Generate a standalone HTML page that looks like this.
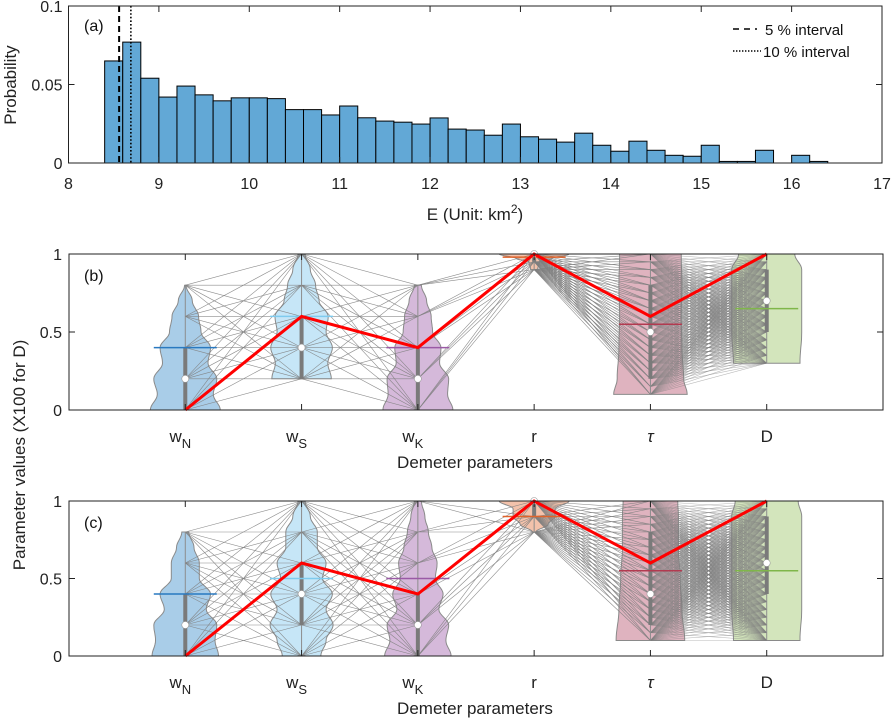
<!DOCTYPE html>
<html><head><meta charset="utf-8"><style>
html,body{margin:0;padding:0;background:#fff}
svg{display:block;font-family:"Liberation Sans",Arial,sans-serif}
</style></head><body>
<svg id="fig" width="894" height="722" viewBox="0 0 894 722" xmlns="http://www.w3.org/2000/svg"></svg>
<script>
// ---- Panel (a) histogram data ----
const binStarts = [8.4,8.6,8.8,9.0,9.2,9.4,9.6,9.8,10.0,10.2,10.4,10.6,10.8,11.0,11.2,11.4,11.6,11.8,12.0,12.2,12.4,12.6,12.8,13.0,13.2,13.4,13.6,13.8,14.0,14.2,14.4,14.6,14.8,15.0,15.2,15.4,15.6,15.8,16.0,16.2];
const binProbs = [0.065,0.077,0.054,0.042,0.049,0.0434,0.0396,0.0415,0.0415,0.041,0.034,0.034,0.0306,0.0363,0.0288,0.0267,0.026,0.0248,0.0287,0.0216,0.021,0.0177,0.0248,0.0167,0.0152,0.0133,0.019,0.0113,0.0075,0.0139,0.0081,0.0049,0.0043,0.0113,0.001,0.001,0.0081,0,0.0049,0.001];
const binWidth = 0.2;
const interval5 = 8.56, interval10 = 8.69;
const histXTicks = [8,9,10,11,12,13,14,15,16,17];
const histYTicks = [0,0.05,0.1];
const histYTickLabels = ["0","0.05","0.1"];

// ---- Panels (b),(c) parallel coordinates data ----
const paramLabels = ["w","w","w","r","τ","D"];
const paramSubs = ["N","S","K","","",""];
const pcYTicks = [0,0.5,1];
const redB = [0,0.6,0.4,1,0.6,1];
const redC = [0,0.6,0.4,1,0.6,1];
const levelsB = [[0,.2,.4,.6,.8],[.2,.4,.6,.8,1],[0,.2,.4,.6,.8],[.9,.95,1],
 [.1,.15,.2,.25,.3,.35,.4,.45,.5,.55,.6,.65,.7,.75,.8,.85,.9,.95,1],
 [.3,.35,.4,.45,.5,.55,.6,.65,.7,.75,.8,.85,.9,.95,1]];
const levelsC = [[0,.2,.4,.6,.8],[0,.2,.4,.6,.8,1],[0,.2,.4,.6,.8,1],[.8,.9,1],
 [.1,.15,.2,.25,.3,.35,.4,.45,.5,.55,.6,.65,.7,.75,.8,.85,.9,.95,1],
 [.1,.15,.2,.25,.3,.35,.4,.45,.5,.55,.6,.65,.7,.75,.8,.85,.9,.95,1]];
// violin density profiles: [value, relative density]
const violinB = [
 [[0,1],[.1,.8],[.2,.9],[.3,.65],[.4,.72],[.5,.45],[.6,.38],[.7,.2],[.8,.02]],
 [[.2,.85],[.3,.75],[.4,.88],[.5,.7],[.6,.76],[.7,.5],[.8,.4],[.9,.25],[1,.1]],
 [[0,1],[.1,.85],[.2,.88],[.3,.62],[.4,.66],[.5,.42],[.6,.38],[.7,.25],[.8,.1]],
 [[.9,.1],[.95,.15],[.97,.5],[1,1]],
 [[.1,1.05],[.2,.95],[.4,.9],[.6,.88],[.8,.9],[1,.88]],
 [[.3,.95],[.5,1],[.7,1],[.9,1],[1,.8]]];
const violinC = [
 [[0,.95],[.1,.85],[.2,.9],[.3,.6],[.4,.72],[.5,.4],[.6,.4],[.7,.25],[.8,.1]],
 [[0,.55],[.1,.7],[.2,.9],[.3,.7],[.4,.88],[.5,.6],[.6,.7],[.7,.45],[.8,.45],[.9,.25],[1,.1]],
 [[0,.95],[.1,.8],[.2,.88],[.3,.6],[.4,.72],[.5,.5],[.6,.55],[.7,.4],[.8,.3],[.9,.2],[1,.1]],
 [[.8,.05],[.85,.4],[.9,.6],[.95,.6],[1,1]],
 [[.1,.98],[.3,.9],[.5,.85],[.7,.8],[.9,.8],[1,.78]],
 [[.1,.95],[.3,1],[.5,1],[.7,1],[.9,1],[1,.9]]];
const medianB = [.4,.6,.4,.98,.55,.65];
const meanB = [.2,.4,.2,1,.5,.7];
const q1B = [0,.2,0,.95,.2,.5], q3B = [.4,.6,.4,1,.8,.9];
const medianC = [.4,.5,.5,.9,.55,.55];
const meanC = [.2,.4,.2,1,.4,.6];
const q1C = [0,.2,0,.9,.2,.4], q3C = [.4,.6,.4,1,.8,.9];
const fillColors = ["#a9cde8","#c6e6f7","#d5b9da","#f3c2ab","#dfb3bf","#d3e5bc"];
const medColors = ["#2979c0","#7fcbee","#9a5aa5","#e0632a","#b23a50","#7fb64a"];

const NS="http://www.w3.org/2000/svg";
const svg=document.getElementById('fig');
function mk(tag,attrs,parent){const e=document.createElementNS(NS,tag);for(const k in attrs)e.setAttribute(k,attrs[k]);(parent||svg).appendChild(e);return e;}

// ===== Panel (a) =====
const ha={l:68.5,r:882,t:6,b:163};
const hx=v=>ha.l+(v-8)*(ha.r-ha.l)/9;
const hy=p=>ha.b-p*(ha.b-ha.t)/0.1;
const gA=mk('g',{});


mk('rect',{x:ha.l,y:ha.t,width:ha.r-ha.l,height:ha.b-ha.t,fill:'#fff'},gA);
binStarts.forEach((s,i)=>{
  if(binProbs[i]<=0) return;
  const r=mk('rect',{x:hx(s),y:hy(binProbs[i]),width:hx(s+binWidth)-hx(s),height:hy(0)-hy(binProbs[i]),fill:'#62a8d6',stroke:'#000','stroke-width':1},gA);
  
  
});
let l5=mk('line',{x1:hx(interval5),x2:hx(interval5),y1:ha.t,y2:ha.b,stroke:'#000','stroke-width':2,'stroke-dasharray':'6,4'},gA);


let l10=mk('line',{x1:hx(interval10),x2:hx(interval10),y1:ha.t,y2:ha.b,stroke:'#000','stroke-width':1.6,'stroke-dasharray':'1.6,2'},gA);


mk('rect',{x:ha.l,y:ha.t,width:ha.r-ha.l,height:ha.b-ha.t,fill:'none',stroke:'#222','stroke-width':1},gA);
histXTicks.forEach(t=>{
  mk('line',{x1:hx(t),x2:hx(t),y1:ha.b,y2:ha.b-6,stroke:'#222'},gA);
  mk('line',{x1:hx(t),x2:hx(t),y1:ha.t,y2:ha.t+6,stroke:'#222'},gA);
  const tx=mk('text',{x:hx(t),y:189,'font-size':16,'text-anchor':'middle',fill:'#222'},gA);tx.textContent=t;
  
  
});
histYTicks.forEach((t,i)=>{
  mk('line',{x1:ha.l,x2:ha.l+6,y1:hy(t),y2:hy(t),stroke:'#222'},gA);
  mk('line',{x1:ha.r,x2:ha.r-6,y1:hy(t),y2:hy(t),stroke:'#222'},gA);
  const tx=mk('text',{x:ha.l-6,y:hy(t)+6,'font-size':16,'text-anchor':'end',fill:'#222'},gA);tx.textContent=histYTickLabels[i];
  
  
});
let ta=mk('text',{x:84,y:31,'font-size':16,fill:'#111'},gA);ta.textContent='(a)';

let yl=mk('text',{x:0,y:0,'font-size':17,'text-anchor':'middle',fill:'#222',transform:'translate(16,85) rotate(-90)'},gA);yl.textContent='Probability';

let xl=mk('text',{x:475,y:220,'font-size':17,'text-anchor':'middle',fill:'#222'},gA);
xl.innerHTML='E (Unit: km<tspan dy="-7" font-size="12">2</tspan><tspan dy="7">)</tspan>';

// legend
const lg=mk('g',{},gA);


mk('line',{x1:733,x2:757,y1:29,y2:29,stroke:'#000','stroke-width':1.6,'stroke-dasharray':'6,5'},lg);
let lt1=mk('text',{x:765,y:35,'font-size':15,fill:'#111'},lg);lt1.textContent='5 % interval';

mk('line',{x1:733,x2:761,y1:51,y2:51,stroke:'#000','stroke-width':1.4,'stroke-dasharray':'1.4,1.6'},lg);
let lt2=mk('text',{x:763,y:57,'font-size':15,fill:'#111'},lg);lt2.textContent='10 % interval';


// ===== Panels (b),(c) =====
function smoothProfile(prof){
  const out=[];
  for(let i=0;i<prof.length-1;i++){
    const [v0,d0]=prof[i],[v1,d1]=prof[i+1];
    for(let k=0;k<8;k++){const t=k/8;const s=(1-Math.cos(Math.PI*t))/2;out.push([v0+(v1-v0)*t,d0+(d1-d0)*s]);}
  }
  out.push(prof[prof.length-1]);return out;
}
function drawPC(cfg){
  const {top,bot,name,label,levels,violin,red,median,mean,q1,q3}=cfg;
  const L=69,R=883;
  const X=i=>L+(i+1)*(R-L)/7;
  const Y=v=>bot-v*(bot-top);
  const W=35;
  const g=mk('g',{});
  
  
  mk('rect',{x:L,y:top,width:R-L,height:bot-top,fill:'#fff'},g);
  // violins
  violin.forEach((prof,i)=>{
    const sp=smoothProfile(prof);
    let d='';
    sp.forEach((p,k)=>{d+=(k?'L':'M')+(X(i)-p[1]*W).toFixed(1)+','+Y(p[0]).toFixed(1);});
    for(let k=sp.length-1;k>=0;k--){const p=sp[k];d+='L'+(X(i)+p[1]*W).toFixed(1)+','+Y(p[0]).toFixed(1);}
    d+='Z';
    const pth=mk('path',{d:d,fill:fillColors[i],stroke:'#8a8a8a','stroke-width':1},g);
    
    
  });
  // gray parameter-set lines
  const gl=mk('g',{stroke:'#808080','stroke-width':0.6,fill:'none'},g);
  
  
  for(let i=0;i<levels.length-1;i++){
    levels[i].forEach(a=>levels[i+1].forEach(b=>{
      mk('line',{x1:X(i),y1:Y(a),x2:X(i+1),y2:Y(b),'stroke-opacity':i===4?0.55:0.9},gl);
    }));
  }
  // box bars, median, mean
  violin.forEach((prof,i)=>{
    mk('line',{x1:X(i),x2:X(i),y1:Y(prof[0][0]),y2:Y(prof[prof.length-1][0]),stroke:'#8c8c8c','stroke-width':1},g);
    const bx=mk('line',{x1:X(i),x2:X(i),y1:Y(q1[i]),y2:Y(q3[i]),stroke:'#7a7a7a','stroke-width':4},g);
    
    
    const md=mk('line',{x1:X(i)-W*0.9,x2:X(i)+W*0.9,y1:Y(median[i]),y2:Y(median[i]),stroke:medColors[i],'stroke-width':1.5},g);
    
    
    const c=mk('circle',{cx:X(i),cy:Y(mean[i]),r:3.5,fill:'#fff',stroke:'#999','stroke-width':0.6},g);
    
    
  });
  // red best line
  const pts=red.map((v,i)=>X(i).toFixed(1)+','+Y(v).toFixed(1)).join(' ');
  const rl=mk('polyline',{points:pts,fill:'none',stroke:'#ff0000','stroke-width':3,'stroke-linejoin':'miter'},g);
  
  
  // axes
  mk('rect',{x:L,y:top,width:R-L,height:bot-top,fill:'none',stroke:'#222','stroke-width':1},g);
  paramLabels.forEach((p,i)=>{
    mk('line',{x1:X(i),x2:X(i),y1:bot,y2:bot-6,stroke:'#222'},g);
    mk('line',{x1:X(i),x2:X(i),y1:top,y2:top+6,stroke:'#222'},g);
    const t=mk('text',{x:X(i)-(paramSubs[i]?5:0),y:bot+32,'font-size':17,'text-anchor':'middle',fill:'#222','font-style':p==='τ'?'italic':'normal'},g);
    if(paramSubs[i]) t.innerHTML=p+'<tspan dy="6" font-size="13">'+paramSubs[i]+'</tspan>'; else t.textContent=p;
    
    
  });
  pcYTicks.forEach(v=>{
    mk('line',{x1:L,x2:L+6,y1:Y(v),y2:Y(v),stroke:'#222'},g);
    mk('line',{x1:R,x2:R-6,y1:Y(v),y2:Y(v),stroke:'#222'},g);
    const t=mk('text',{x:L-7,y:Y(v)+6,'font-size':16,'text-anchor':'end',fill:'#222'},g);t.textContent=v;
    
    
  });
  const pl=mk('text',{x:84,y:top+27,'font-size':16,fill:'#111'},g);pl.textContent=label;
  
  
  const xt=mk('text',{x:475,y:bot+58,'font-size':17,'text-anchor':'middle',fill:'#222'},g);xt.textContent='Demeter parameters';
  
  
}
drawPC({top:254,bot:410,name:'parallel-coordinates-panel-b',label:'(b)',levels:levelsB,violin:violinB,red:redB,median:medianB,mean:meanB,q1:q1B,q3:q3B});
drawPC({top:501,bot:656,name:'parallel-coordinates-panel-c',label:'(c)',levels:levelsC,violin:violinC,red:redC,median:medianC,mean:meanC,q1:q1C,q3:q3C});
let py=mk('text',{x:0,y:0,'font-size':17,'text-anchor':'middle',fill:'#222',transform:'translate(25,455) rotate(-90)'});
py.textContent='Parameter values (X100 for D)';


</script>
</body></html>
